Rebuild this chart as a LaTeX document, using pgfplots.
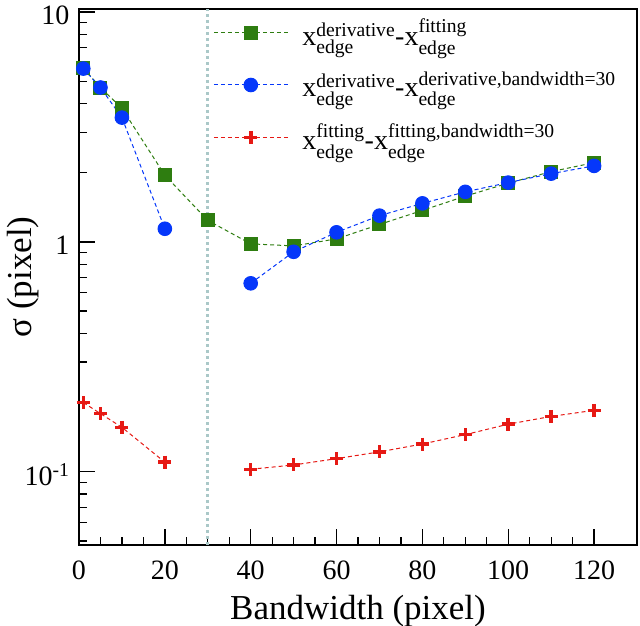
\documentclass[border=0pt]{standalone}
\usepackage{pgfplots}
\pgfplotsset{compat=1.18}
\usepackage{amsmath}
\usepackage{fontspec}
\setmainfont{Liberation Serif}
\definecolor{cgreen}{RGB}{46,125,16}
\definecolor{cblue}{RGB}{5,55,250}
\definecolor{cred}{RGB}{230,25,20}
\definecolor{cvline}{RGB}{170,200,200}
\begin{document}
\begin{tikzpicture}
\begin{axis}[
  scale only axis, width=558pt, height=536pt,
  xmin=0, xmax=130, ymin=0.048, ymax=10.3, ymode=log,
  axis line style={line width=1.6pt},
  tick pos=left, tick align=inside,
  xtick={0,20,...,120}, minor x tick num=3,
  ytick={0.1,1,10}, yticklabels={10\textsuperscript{-1},1,10},
  minor ytick={0.05,0.06,0.07,0.08,0.09,0.2,0.3,0.4,0.5,0.6,0.7,0.8,0.9,2,3,4,5,6,7,8,9},
  major tick length=16pt, minor tick length=8pt,
  every major tick/.style={black, line width=1.4pt},
  every minor tick/.style={black, line width=1.2pt},
  tick label style={font=\fontsize{28}{30}\selectfont},
  yticklabel style={xshift=-6pt, yshift=-3pt},
  xticklabel style={yshift=-12pt},
  /pgf/number format/assume math mode=true,
  xlabel={Bandwidth (pixel)}, ylabel={σ (pixel)},
  label style={font=\fontsize{35}{38}\selectfont},
  xlabel style={yshift=-9pt},
  ylabel style={at={(axis description cs:-0.1,0.5)}, anchor=center},
  unbounded coords=jump,
  legend cell align=left,
  legend style={draw=none, fill=none, at={(0.235,0.99)}, anchor=north west,
    font=\fontsize{28}{30}\selectfont, row sep=21pt, column sep=12pt},
  legend image code/.code={\draw[mark repeat=2,mark phase=2] plot coordinates {(0pt,0pt)(37pt,0pt)(74pt,0pt)};},
]
\addplot[cvline, line width=3pt, dash pattern=on 3pt off 3pt, forget plot] coordinates {(30,0.048) (30,10.3)};

\addplot[cgreen, line width=1pt, dash pattern=on 4pt off 3pt, mark=square*, mark size=6.5pt, mark options={solid, draw=cgreen, fill=cgreen}] coordinates {
(1,5.7)(5,4.69)(10,3.81)(20,1.95)(30,1.24)(40,0.98)(50,0.96)(60,1.03)(70,1.19)(80,1.37)(90,1.58)(100,1.80)(110,2.02)(120,2.21)};
\addlegendentry{$\text{x}^{\text{derivative}}_{\text{edge}}$-$\text{x}^{\text{fitting}}_{\text{edge}}$}

\addplot[cblue, line width=1pt, dash pattern=on 4pt off 3pt, mark=*, mark size=6.8pt, mark options={solid, draw=cblue, fill=cblue}] coordinates {
(1,5.67)(5,4.69)(10,3.47)(20,1.14)(30,nan)(40,0.66)(50,0.905)(60,1.10)(70,1.30)(80,1.47)(90,1.65)(100,1.81)(110,1.98)(120,2.14)};
\addlegendentry{$\text{x}^{\text{derivative}}_{\text{edge}}$-$\text{x}^{\text{derivative,bandwidth=30}}_{\text{edge}}$}

\addplot[cred, line width=1pt, dash pattern=on 4pt off 3pt, mark=+, mark size=6.5pt, mark options={solid, line width=3.5pt}] coordinates {
(1,0.200)(5,0.179)(10,0.156)(20,0.110)(30,nan)(40,0.1025)(50,0.107)(60,0.114)(70,0.122)(80,0.132)(90,0.145)(100,0.161)(110,0.174)(120,0.185)};
\addlegendentry{$\text{x}^{\text{fitting}}_{\text{edge}}$-$\text{x}^{\text{fitting,bandwidth=30}}_{\text{edge}}$}
\end{axis}
\pgfresetboundingbox
\path[use as bounding box] ([shift={(-79pt,-81pt)}]current axis.south west) rectangle ([shift={(3pt,9pt)}]current axis.north east);
\end{tikzpicture}
\end{document}
